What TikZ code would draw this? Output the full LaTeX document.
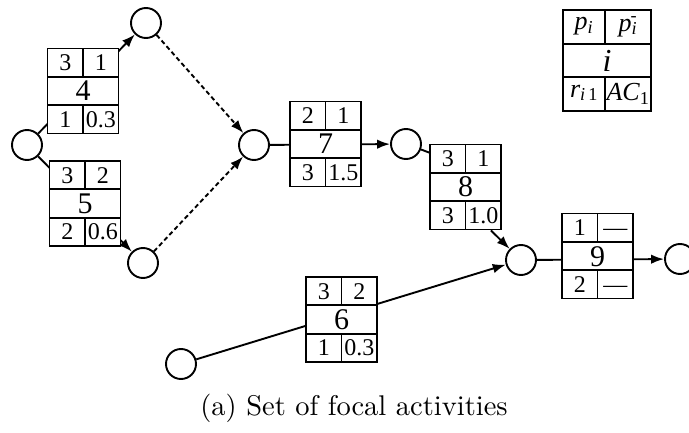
\documentclass[tikz,border=0pt]{standalone}
\usepackage{fontspec}
\newfontfamily\tms{Liberation Serif}
\newfontfamily\lmten{lmroman10-regular.otf}
\usetikzlibrary{arrows.meta}
\newcommand{\actbox}[7]{%
\begin{scope}[shift={(#2)}]
 \node[abox] (#1) at (0,0) {};
 \draw[conn] (-35.5,-14.17) -- (35.5,-14.17) (-35.5,14.17) -- (35.5,14.17)
   (0,-42.5) -- (0,-14.17) (0,14.17) -- (0,42.5);
 \node[sm] (#1a) at (-17.75,-28.33) {#3};
 \node[sm] (#1b) at (17.75,-28.33) {#4};
 \node[bg] (#1c) at (0,0) {#5};
 \node[sm] (#1d) at (-17.75,28.33) {#6};
 \node[sm] (#1e) at (17.75,28.33) {#7};
\end{scope}}
\begin{document}
\begin{tikzpicture}[x=1pt,y=-1pt,
  circ/.style={circle,draw,line width=1.9pt,minimum size=30pt,inner sep=0pt},
  abox/.style={draw,fill=white,line width=1.9pt,minimum width=71pt,minimum height=85pt,inner sep=0pt},
  sm/.style={font=\tms\fontsize{24}{24}\selectfont,inner sep=0pt,text height=16pt,text depth=0pt},
  bg/.style={font=\tms\fontsize{30}{30}\selectfont,inner sep=0pt,text height=20pt,text depth=0pt},
  lg/.style={font=\tms\fontsize{26}{26}\selectfont\itshape,inner sep=0pt},
  conn/.style={line width=1.9pt},
  arr/.style={conn,-{Latex[length=13pt,width=9.5pt]}},
  dsh/.style={arr,dash pattern=on 4.5pt off 3pt},
]
\useasboundingbox (0,0) rectangle (689,433);
% event circles
\node[circ] (A) at (27,145) {};
\node[circ] (B) at (146,23) {};
\node[circ] (C) at (143,263) {};
\node[circ] (D) at (254,145) {};
\node[circ] (E) at (406,144) {};
\node[circ] (F) at (521,260) {};
\node[circ] (G) at (680,259) {};
\node[circ] (H) at (181,364) {};
% connectors (drawn below the boxes)
\draw[arr] (A) -- (B);
\draw[arr] (A) -- (C);
\draw[dsh] (B) -- (D);
\draw[dsh] (C) -- (D);
\draw[arr] (D) -- (E);
\draw[arr] (H) -- (F);
\draw[arr] (F) -- (G);
% activity boxes
\actbox{b4}{83,91}{3}{1}{4}{1}{0.3}
\actbox{b5}{85,203.5}{3}{2}{5}{2}{0.6}
\actbox{b7}{325.5,144}{2}{1}{7}{3}{1.5}
\actbox{b8}{465.5,187}{3}{1}{8}{3}{1.0}
\actbox{b9}{597.5,256}{1}{—}{9}{2}{—}
\actbox{b6}{341.5,319.5}{3}{2}{6}{1}{0.3}
\draw[conn] (E.-20) -- ([yshift=-9pt]b8.north west);
\draw[arr] ([xshift=-11pt]b8.south east) -- (F);
% legend
\node[draw,line width=1.9pt,minimum width=88pt,minimum height=101pt,inner sep=0pt] (leg) at (607,60.5) {};
\draw[conn] (563,43.7) -- (651,43.7) (563,77.3) -- (651,77.3)
  (605,10) -- (605,43.7) (605,77.3) -- (605,111);
\node[lg] (lga) at (584,26.5) {p\textsubscript{i}};
\node[lg] (lgb) at (628,26.5) {p\textsubscript{i}\llap{\raisebox{1pt}{\textsuperscript{\upshape -}}}};
\node[lg,font=\tms\fontsize{32}{32}\selectfont\itshape] (lgc) at (607,60.5) {i};
\node[lg] (lgd) at (584,93) {r\textsubscript{i\,\upshape 1}};
\node[lg] (lge) at (628,94) {AC\textsubscript{\upshape 1}};
% caption
\node[anchor=base,inner sep=0pt,font=\lmten\fontsize{28.5}{32}\selectfont] (cap) at (354,415) {(a) Set of focal activities};
\end{tikzpicture}
\end{document}
